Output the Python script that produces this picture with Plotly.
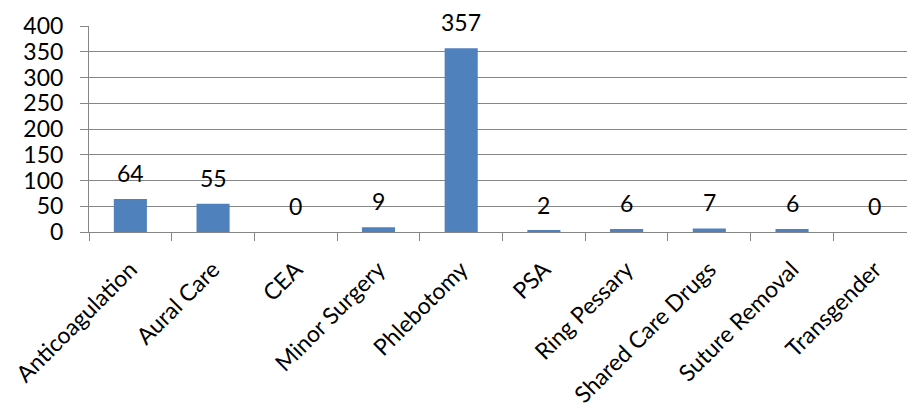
import plotly.graph_objects as go

categories = ["Anticoagulation", "Aural Care", "CEA", "Minor Surgery", "Phlebotomy",
              "PSA", "Ring Pessary", "Shared Care Drugs", "Suture Removal", "Transgender"]
values = [64, 55, 0, 9, 357, 2, 6, 7, 6, 0]
y_ticks = [0, 50, 100, 150, 200, 250, 300, 350, 400]

FONT = "Lato, Carlito, Calibri, sans-serif"
GRID = "#868686"

fig = go.Figure(go.Bar(
    x=categories, y=values, marker=dict(color="#4F81BD", line=dict(width=0)),
    width=0.4,
))

for c, v in zip(categories, values):
    fig.add_annotation(x=c, y=v, text=str(v), showarrow=False, yanchor="middle",
                       yshift=26, font=dict(family=FONT, size=23, color="black"))

fig.update_layout(
    width=907, height=410,
    margin=dict(l=89, r=0, t=26, b=178, autoexpand=False),
    paper_bgcolor="white", plot_bgcolor="white",
    font=dict(family=FONT, size=23, color="black"),
    showlegend=False,
    bargap=0.6,
)
fig.update_xaxes(
    range=[-0.5, 9.39], tickangle=-45, tickson="boundaries",
    ticks="outside", ticklen=8, tickcolor=GRID, tickwidth=1,
    showline=True, linecolor=GRID, linewidth=1, showgrid=False,
    ticklabelstandoff=14, automargin=False,
    tickfont=dict(family=FONT, size=23, color="black"),
)
fig.update_yaxes(
    range=[0, 400], tickvals=y_ticks, ticks="outside", ticklen=8, tickcolor=GRID,
    showline=True, linecolor=GRID, linewidth=1,
    showgrid=True, gridcolor=GRID, gridwidth=1, zeroline=False,
    ticklabelstandoff=12, automargin=False,
    tickfont=dict(family=FONT, size=23, color="black"),
)

fig.write_html("out.html")
